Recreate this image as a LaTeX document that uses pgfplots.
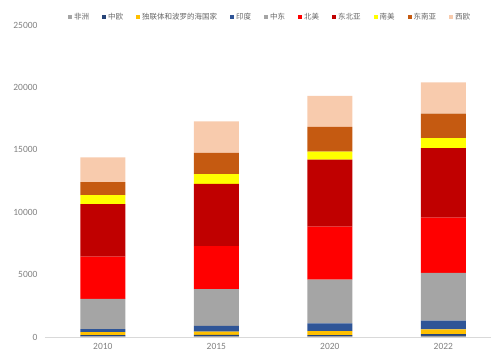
\documentclass[border=0pt]{standalone}
\usepackage{pgfplots}
\pgfplotsset{compat=1.18}
\usepackage{fontspec}
\setmainfont{Carlito}
\newfontfamily\cjk{Noto Sans CJK SC}
\definecolor{cAfrica}{HTML}{A5A5A5}
\definecolor{cCE}{HTML}{264478}
\definecolor{cCIS}{HTML}{FFC000}
\definecolor{cIndia}{HTML}{2F5597}
\definecolor{cME}{HTML}{A5A5A5}
\definecolor{cNA}{HTML}{FF0000}
\definecolor{cNEA}{HTML}{C00000}
\definecolor{cSA}{HTML}{FFFF00}
\definecolor{cSEA}{HTML}{C55A11}
\definecolor{cWE}{HTML}{F8CBAD}
\begin{document}
\begin{tikzpicture}
\useasboundingbox (-45pt,-17pt) rectangle (446pt,337pt);
\begin{axis}[
  at={(0,0)}, anchor=south west,
  width=446pt, height=312pt, scale only axis,
  ybar stacked, bar width=45pt,
  xmin=-0.51, xmax=3.42, ymin=0, ymax=25000,
  xtick={0,1,2,3}, xticklabels={2010,2015,2020,2022},
  ytick={0,5000,10000,15000,20000,25000},
  scaled y ticks=false,
  /pgf/number format/1000 sep={},
  /pgf/number format/assume math mode=true,
  axis x line*=bottom, axis y line*=left,
  y axis line style={draw=none},
  x axis line style={draw=gray!30},
  major tick length=0pt,
  tick label style={font=\fontsize{9.5}{10}\selectfont, text=gray},
  yticklabel style={xshift=-4pt},
  xticklabel style={yshift=-3pt},
  legend style={at={(0.505,1.026)}, anchor=center, draw=none, fill=none,
    legend columns=10, font=\cjk\fontsize{7.5}{8}\selectfont, text=black!60,
    /tikz/every even column/.append style={column sep=11pt},
    inner sep=0pt},
  legend image code/.code={\fill[#1, draw=none] (0pt,-2pt) rectangle (4pt,2pt);},
]
\addplot[fill=cAfrica, draw=none] coordinates {(0,50) (1,80) (2,70) (3,100)};
\addplot[fill=cCE, draw=none] coordinates {(0,100) (1,100) (2,90) (3,140)};
\addplot[fill=cCIS, draw=none] coordinates {(0,250) (1,250) (2,320) (3,370)};
\addplot[fill=cIndia, draw=none] coordinates {(0,240) (1,460) (2,620) (3,700)};
\addplot[fill=cME, draw=none] coordinates {(0,2420) (1,2950) (2,3500) (3,3830)};
\addplot[fill=cNA, draw=none] coordinates {(0,3390) (1,3440) (2,4250) (3,4430)};
\addplot[fill=cNEA, draw=none] coordinates {(0,4200) (1,4980) (2,5370) (3,5570)};
\addplot[fill=cSA, draw=none] coordinates {(0,720) (1,800) (2,640) (3,800)};
\addplot[fill=cSEA, draw=none] coordinates {(0,1030) (1,1700) (2,1970) (3,1960)};
\addplot[fill=cWE, draw=none] coordinates {(0,2000) (1,2520) (2,2500) (3,2500)};
\legend{非洲,中欧,独联体和波罗的海国家,印度,中东,北美,东北亚,南美,东南亚,西欧}
\end{axis}
\end{tikzpicture}
\end{document}
